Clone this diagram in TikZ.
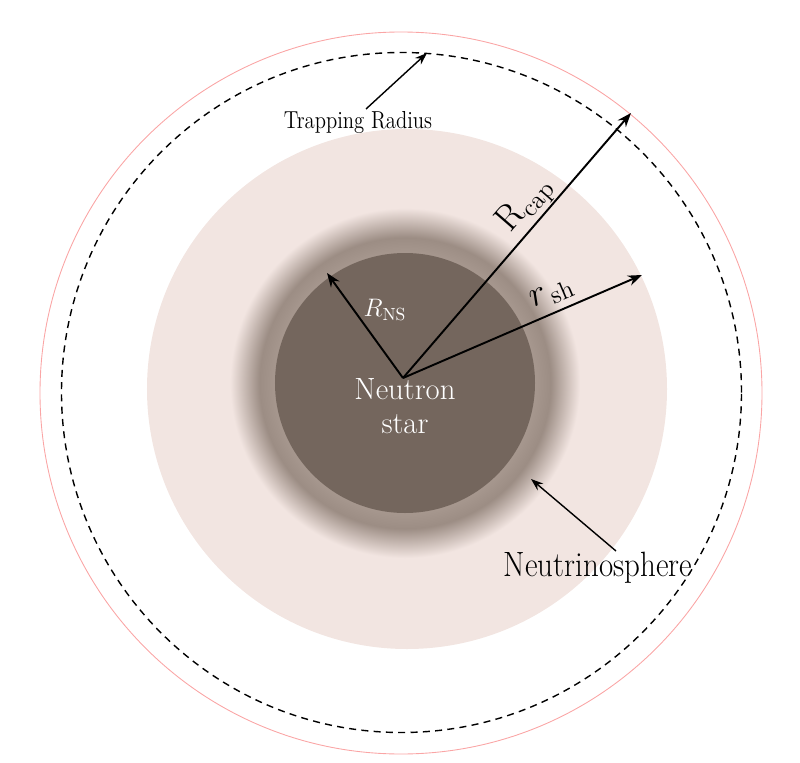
\documentclass[tikz,border=0pt]{standalone}
\usepackage{amsmath, amssymb}
\usepackage{xcolor}
\usepackage{tikz}
\usetikzlibrary{calc, positioning, arrows.meta}

\definecolor{nsdark}{RGB}{116,102,93}
\definecolor{nshalo}{RGB}{166,151,142}
\definecolor{nshaloedge}{RGB}{156,141,132}
\definecolor{nupink}{RGB}{242,229,225}
\definecolor{caprim}{RGB}{250,165,165}

% 25bp = mep cua duong tron duoc to
\pgfdeclareradialshading{nuhalo}{\pgfpoint{0bp}{0bp}}{%
  color(0bp)=(nshalo); color(18.6bp)=(nshalo); color(20.8bp)=(nshaloedge);
  color(25bp)=(nupink); color(50bp)=(nupink)}

\begin{document}
\begin{tikzpicture}[>={Stealth[length=8pt, width=6pt]}, line width=1.1pt]
    \useasboundingbox (-8.1,-7.58) rectangle (7.9,7.66);

    % Vong ngoai: ban kinh bat giu va ban kinh R_cap
    \draw[caprim, line width=0.5pt] (-0.08,-0.20) circle (7.22);
    \draw[dash pattern=on 4pt off 3pt, line width=0.8pt] (-0.07,-0.19) circle (6.80);

    % Neutrinosphere, quang mo va sao neutron
    \fill[nupink] (0.04,-0.12) circle (5.20);
    \shade[shading=nuhalo] (0,0) circle (3.5);
    \fill[nsdark] (0,0) circle (2.6);

    % Cac diem dau mui ten
    \coordinate (O) at (-0.04,0.10);
    \coordinate (ns) at (-1.56,2.20);
    \coordinate (cap) at (4.52,5.40);
    \coordinate (sh) at (4.74,2.16);
    \coordinate (trapTail) at (-0.78,5.48);
    \coordinate (trap) at (0.44,6.60);
    \coordinate (nuTail) at (4.22,-3.36);
    \coordinate (nu) at (2.52,-1.92);

    % Ban kinh
    \draw[->] (O) -- (ns);
    \draw[->] (O) -- (cap);
    \draw[->] (O) -- (sh);
    \draw[-{Stealth[length=7pt, width=5pt]}, line width=0.8pt] (trapTail) -- (trap);
    \draw[-{Stealth[length=7pt, width=5pt]}, line width=0.8pt] (nuTail) -- (nu);

    % Nhan
    \node[white, align=center, font=\fontsize{17.5}{19}\selectfont] (star) at (0,-0.46) {Neutron\\star};
    \node[white, font=\fontsize{14}{16}\selectfont] (lblNS) at (-0.40,1.46) {$R_{\mathrm{NS}}$};
    \node[rotate=49, font=\fontsize{21}{23}\selectfont] (lblCap) at (2.42,3.56) {$\mathrm{R}_{\mathrm{cap}}$};
    \node[rotate=23, font=\fontsize{20}{22}\selectfont] (lblSh) at (2.94,1.78) {$r_{\,\mathrm{sh}}$};
    \node[xscale=0.84, font=\fontsize{14}{16}\selectfont] (lblTrap) at (-0.94,5.22) {Trapping Radius};
    \node[xscale=0.88, font=\fontsize{20}{22}\selectfont] (lblNu) at (3.86,-3.70) {Neutrinosphere};
\end{tikzpicture}
\end{document}
